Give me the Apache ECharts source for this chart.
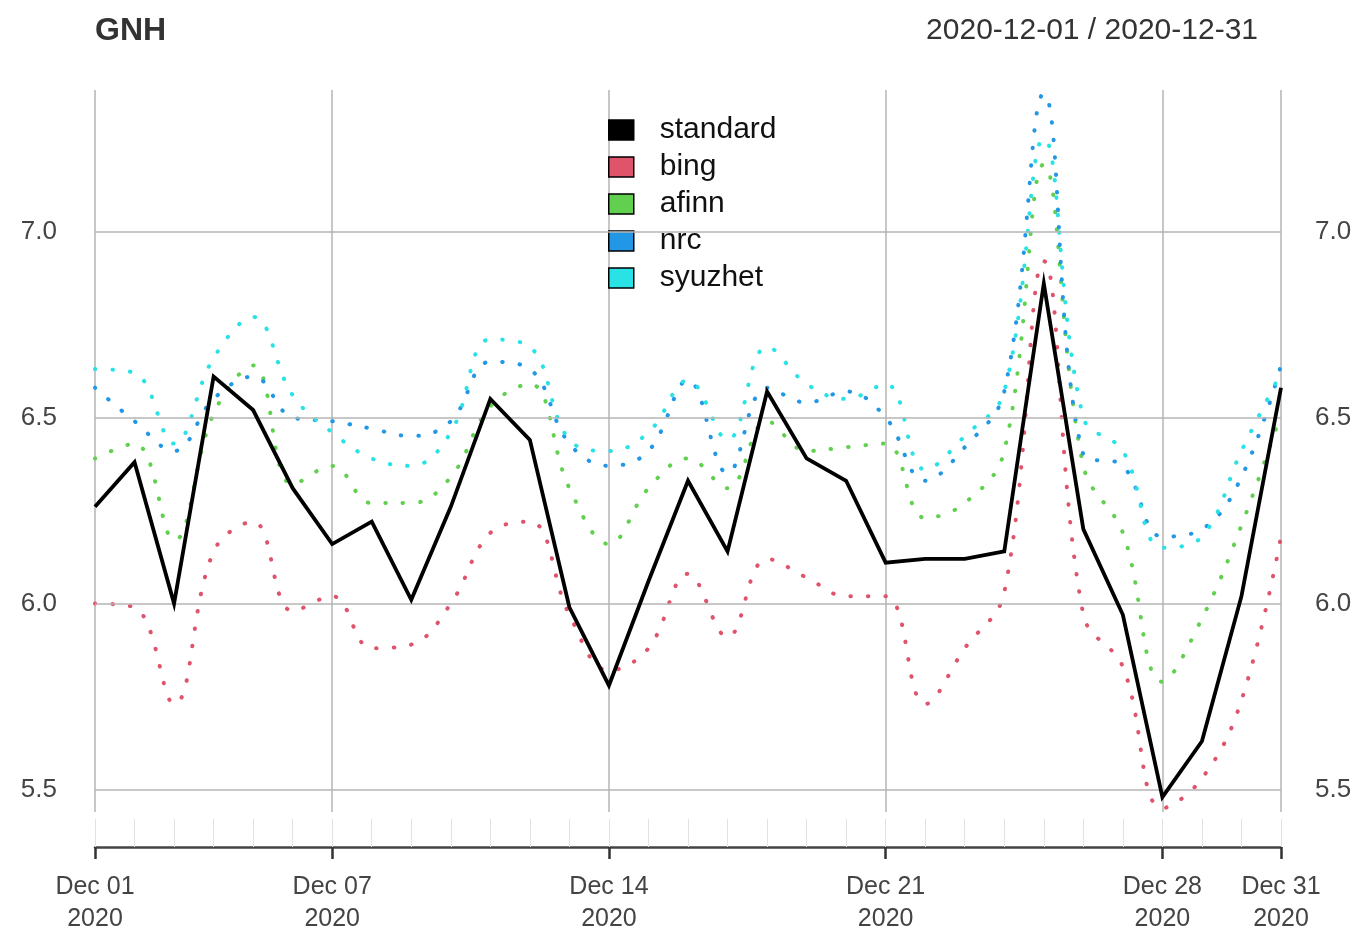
<!DOCTYPE html>
<html>
<head>
<meta charset="utf-8">
<script src="https://cdn.jsdelivr.net/npm/echarts@6/dist/echarts.min.js"></script>
<style>
html,body{margin:0;padding:0;background:#fff;}
#chart{width:1361px;height:935px;}
</style>
</head>
<body>
<div id="chart"></div>
<script>
const days = ['Dec 01','Dec 02','Dec 03','Dec 04','Dec 05','Dec 06','Dec 07','Dec 08','Dec 09','Dec 10',
  'Dec 11','Dec 12','Dec 13','Dec 14','Dec 15','Dec 16','Dec 17','Dec 18','Dec 19','Dec 20',
  'Dec 21','Dec 22','Dec 23','Dec 24','Dec 25','Dec 26','Dec 27','Dec 28','Dec 29','Dec 30','Dec 31'];
const labeledDays = ['Dec 01','Dec 07','Dec 14','Dec 21','Dec 28','Dec 31'];
const yearLabel = '2020';
const yTicks = [5.5, 6.0, 6.5, 7.0];
const yMin = 5.44;
const yMax = 7.38;

const standard = [6.26, 6.38, 6.00, 6.61, 6.52, 6.31, 6.16, 6.22, 6.01, 6.26, 6.55, 6.44, 5.99, 5.78, 6.06, 6.33, 6.14, 6.57, 6.39, 6.33, 6.11, 6.12, 6.12, 6.14, 6.86, 6.20, 5.97, 5.48, 5.63, 6.02, 6.58];
const bing     = [6.00, 5.99, 5.73, 6.14, 6.22, 5.98, 6.02, 5.88, 5.89, 6.00, 6.19, 6.22, 5.97, 5.82, 5.88, 6.08, 5.91, 6.12, 6.07, 6.02, 6.02, 5.73, 5.88, 6.03, 6.92, 5.97, 5.83, 5.45, 5.53, 5.74, 6.18];
const afinn    = [6.39, 6.43, 6.17, 6.51, 6.64, 6.32, 6.37, 6.27, 6.27, 6.34, 6.53, 6.59, 6.31, 6.16, 6.31, 6.39, 6.31, 6.49, 6.41, 6.42, 6.43, 6.23, 6.27, 6.41, 7.18, 6.37, 6.19, 5.79, 5.96, 6.21, 6.51];
const nrc      = [6.58, 6.49, 6.41, 6.55, 6.61, 6.50, 6.49, 6.47, 6.45, 6.49, 6.65, 6.63, 6.43, 6.37, 6.41, 6.60, 6.35, 6.58, 6.54, 6.57, 6.50, 6.33, 6.42, 6.57, 7.37, 6.40, 6.37, 6.18, 6.20, 6.34, 6.64];
const syuzhet  = [6.63, 6.62, 6.43, 6.66, 6.77, 6.56, 6.46, 6.39, 6.37, 6.46, 6.71, 6.69, 6.44, 6.41, 6.46, 6.60, 6.44, 6.69, 6.59, 6.55, 6.59, 6.36, 6.45, 6.57, 7.25, 6.50, 6.41, 6.15, 6.18, 6.41, 6.62];

const seriesNames = ['standard','bing','afinn','nrc','syuzhet'];
const seriesColors = ['#000000','#DF536B','#61D04F','#2297E6','#28E2E5'];

const FONT = "'Liberation Sans', Arial, Helvetica, sans-serif";
const isLabeled = (idx) => labeledDays.indexOf(days[idx]) >= 0;
const yFmt = (v) => {
  for (const t of yTicks) { if (Math.abs(v - t) < 1e-6) return t.toFixed(1); }
  return '';
};

function dotted(name, data, color) {
  return {
    name: name, type: 'line', data: data, smooth: 0.4,
    symbol: 'none', z: 3,
    lineStyle: { color: color, width: 4, type: [0.5, 17], cap: 'round' },
    itemStyle: { color: color }
  };
}

const chart = echarts.init(document.getElementById('chart'), null, { renderer: 'canvas' });
chart.setOption({
  animation: false,
  backgroundColor: '#ffffff',
  textStyle: { fontFamily: FONT },
  title: [
    { text: 'GNH', left: 90, top: 10, textStyle: { fontFamily: FONT, fontSize: 32, fontWeight: 'bold', color: '#333' } },
    { text: '2020-12-01 / 2020-12-31', right: 98, top: 11, textStyle: { fontFamily: FONT, fontSize: 30, fontWeight: 'normal', color: '#333' } }
  ],
  legend: {
    data: seriesNames,
    orient: 'vertical',
    left: 603, top: 110,
    icon: 'rect',
    itemWidth: 25, itemHeight: 20, itemGap: 7,
    itemStyle: { borderColor: '#000', borderWidth: 1.5 },
    textStyle: { fontFamily: FONT, fontSize: 30, color: '#111', padding: [0, 0, 0, 21] },
    selectedMode: false
  },
  grid: { left: 95, right: 80, top: 90, bottom: 122, containLabel: false },
  xAxis: [
    {
      type: 'category', data: days, boundaryGap: false, position: 'bottom', offset: 35,
      axisLine: { show: true, lineStyle: { color: '#444', width: 2.5 } },
      axisTick: { show: true, interval: (i) => isLabeled(i), length: 12, lineStyle: { color: '#333', width: 2.5 } },
      axisLabel: {
        interval: (i) => isLabeled(i), margin: 24, fontFamily: FONT, fontSize: 25, color: '#444', lineHeight: 32,
        formatter: (v) => v + '\n' + yearLabel
      },
      splitLine: { show: true, interval: (i) => isLabeled(i), lineStyle: { color: '#b5b5b5', width: 1.5 } }
    },
    {
      type: 'category', data: days, boundaryGap: false, position: 'bottom', offset: 35,
      axisLine: { show: false },
      axisTick: { show: true, inside: true, interval: 0, length: 28, lineStyle: { color: '#e2e2e2', width: 1 } },
      axisLabel: { show: false },
      splitLine: { show: false }
    }
  ],
  yAxis: [
    {
      type: 'value', min: yMin, max: yMax, position: 'left',
      axisLine: { show: false }, axisTick: { show: false }, splitLine: { show: false },
      axisLabel: { customValues: yTicks, formatter: yFmt, margin: 38, fontFamily: FONT, fontSize: 26, color: '#444' }
    },
    {
      type: 'value', min: yMin, max: yMax, position: 'right',
      axisLine: { show: false }, axisTick: { show: false }, splitLine: { show: false },
      axisLabel: { customValues: yTicks, formatter: yFmt, margin: 34, fontFamily: FONT, fontSize: 26, color: '#444' }
    }
  ],
  series: [
    {
      name: 'gridlines', type: 'line', data: days.map(() => null), z: 1, silent: true,
      symbol: 'none', lineStyle: { width: 0 },
      markLine: {
        silent: true, symbol: 'none', label: { show: false },
        lineStyle: { color: '#b5b5b5', width: 1.5, type: 'solid' },
        data: yTicks.map((t) => ({ yAxis: t }))
      }
    },
    {
      name: 'standard', type: 'line', data: standard, symbol: 'none', z: 5,
      lineStyle: { color: seriesColors[0], width: 3.8, join: 'miter' },
      itemStyle: { color: seriesColors[0] }
    },
    dotted('bing', bing, seriesColors[1]),
    dotted('afinn', afinn, seriesColors[2]),
    dotted('nrc', nrc, seriesColors[3]),
    dotted('syuzhet', syuzhet, seriesColors[4])
  ]
});
</script>
</body>
</html>
